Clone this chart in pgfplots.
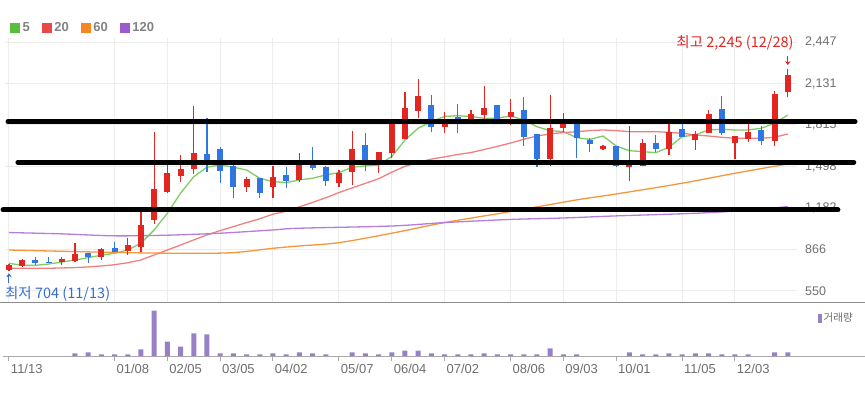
\documentclass[border=0pt]{standalone}
\usepackage{fontspec}
\setmainfont{Liberation Sans}
\newfontfamily\kr{Noto Sans CJK KR}
\usepackage{pgfplots}
\usepackage{pgfplotstable}
\pgfplotsset{compat=1.18}
\usetikzlibrary{arrows.meta}

\definecolor{cRed}{RGB}{226,38,33}
\definecolor{cBlue}{RGB}{48,118,226}
\definecolor{maGreen}{RGB}{125,205,100}
\definecolor{maRed}{RGB}{240,128,128}
\definecolor{maOrange}{RGB}{246,150,60}
\definecolor{maPurple}{RGB}{180,125,222}
\definecolor{lgGreen}{RGB}{90,190,60}
\definecolor{lgRed}{RGB}{235,72,72}
\definecolor{lgOrange}{RGB}{245,135,30}
\definecolor{lgPurple}{RGB}{155,90,205}
\definecolor{volC}{RGB}{152,128,200}
\definecolor{tickgray}{RGB}{110,110,110}
\definecolor{legendgray}{RGB}{130,130,130}
\definecolor{gridgray}{RGB}{236,236,236}
\definecolor{lowBlue}{RGB}{55,110,205}

% weekly candles: x = week index from 11/13
\pgfplotstableread{
x o h l c
0 712 752 704 748
1 741 794 736 786
4 773 811 748 794
5 781 918 773 832
7 807 876 786 868
9 857 952 824 898
10 883 1188 850 1053
11 1091 1764 1061 1327
12 1307 1510 1295 1452
13 1425 1587 1383 1480
14 1480 1960 1442 1604
18 1340 1421 1307 1401
20 1340 1503 1256 1421
22 1396 1605 1384 1541
25 1371 1470 1340 1452
26 1455 1769 1358 1630
28 1528 1612 1452 1612
29 1604 1823 1561 1823
30 1706 2064 1706 1947
31 1922 2166 1866 2036
33 1798 1917 1757 1828
35 1861 1930 1828 1899
36 1891 2113 1859 1947
38 1879 2013 1815 1917
41 1554 2044 1503 1795
42 1790 1909 1765 1823
45 1630 1660 1625 1655
47 1495 1808 1391 1525
48 1503 1706 1503 1681
50 1630 1828 1587 1764
52 1701 1770 1625 1747
53 1757 1930 1757 1899
55 1676 1732 1554 1732
56 1706 1859 1688 1764
58 1693 2077 1655 2051
59 2064 2245 2026 2196
}\upc

\pgfplotstableread{
x o h l c
2 786 811 748 766
3 773 811 766 766
6 837 837 766 807
8 880 926 850 850
15 1594 1866 1455 1548
16 1632 1650 1371 1467
17 1503 1510 1256 1340
19 1414 1414 1256 1299
21 1434 1497 1333 1391
23 1515 1645 1472 1490
24 1497 1503 1350 1391
27 1663 1757 1462 1548
32 1968 2044 1764 1798
34 1879 1975 1757 1853
37 1968 1968 1859 1859
39 1930 2026 1655 1721
40 1747 1747 1498 1554
43 1820 1848 1561 1714
44 1701 1714 1612 1668
46 1655 1655 1495 1503
49 1681 1739 1612 1630
51 1782 1828 1721 1721
54 1935 2036 1739 1757
57 1777 1808 1663 1693
}\downc

\pgfplotstableread{
x ma5 ma20
0 761 723
1 745 722
2 745 722
3 755 723
4 770 725
5 786 728
6 804 733
7 822 740
8 837 750
9 862 765
10 914 786
11 1015 824
12 1142 862
13 1295 900
14 1421 939
15 1493 977
16 1510 1010
17 1493 1040
18 1472 1071
19 1409 1100
20 1383 1135
21 1376 1158
22 1396 1190
23 1409 1225
24 1434 1260
25 1452 1300
26 1493 1335
27 1503 1370
28 1510 1405
29 1575 1455
30 1700 1500
31 1790 1530
32 1841 1555
33 1880 1572
34 1886 1590
35 1879 1605
36 1866 1628
37 1866 1652
38 1884 1677
39 1853 1706
40 1802 1731
41 1772 1747
42 1764 1757
43 1719 1764
44 1705 1772
45 1731 1777
46 1655 1772
47 1619 1764
48 1612 1764
49 1604 1764
50 1645 1759
51 1726 1752
52 1739 1739
53 1777 1731
54 1782 1721
55 1777 1714
56 1777 1714
57 1790 1714
58 1828 1721
59 1891 1747
}\mashort

\pgfplotstableread{
x v
0 862
5 850
10 840
14 837
17 842
20 875
22 893
25 918
29 990
33 1071
38 1155
43 1244
46 1289
51 1371
55 1447
59 1518
}\masixty

\pgfplotstableread{
x v
0 995
4 985
8 970
12 975
16 990
20 1015
22 1028
29 1045
33 1071
38 1095
42 1106
46 1122
52 1142
56 1165
59 1193
}\maonetwenty

\pgfplotstableread{
x v
5 2.7
6 3.7
7 1.7
8 1.7
9 1.7
10 6.7
11 45.3
12 14.3
13 9.3
14 22.7
15 21.7
16 2.7
17 2.7
18 1.7
19 1.7
20 2.7
21 1.7
22 3.7
23 2.7
24 1.7
26 3.7
27 2.7
28 1.7
29 3.7
30 5.3
31 5.3
32 2.7
33 1.7
34 1.7
35 1.7
36 2.7
37 1.7
38 1.7
39 1.7
40 1.7
41 7.7
42 1.7
43 1.7
47 3.7
48 1.7
49 1.7
50 2.7
51 1.7
52 2.7
53 2.7
54 1.7
55 1.7
56 1.7
58 3.7
59 3.7
}\vol

\pgfplotsset{
  candle/.style n args={2}{forget plot, only marks, mark=*, mark size=0pt,
    mark options={draw=none, fill=none},
    error bars/.cd, y dir=plus, y explicit, error mark=none,
    error bar style={draw=#1, line width=#2, line cap=butt}},
}

\begin{document}
\begin{tikzpicture}
\path[use as bounding box] (0pt,0pt) rectangle (865pt,-394pt);

\begin{axis}[
  at={(5pt,-303pt)}, anchor=south west,
  scale only axis, width=792pt, height=265pt,
  xmin=-0.3, xmax=59.7, ymin=458, ymax=2478,
  clip=false,
  axis line style={draw=none},
  xtick={0,8,12,16,20,25,29,33,38,42,46,51,55},
  xticklabels={},
  ytick={550,866,1182,1498,1815,2131,2447},
  yticklabels={550,866,{1,182},{1,498},{1,815},{2,131},{2,447}},
  yticklabel pos=right,
  yticklabel style={anchor=west, inner xsep=0pt, xshift=8pt},
  major tick length=0pt,
  grid=major,
  major grid style={draw=gridgray, line width=1pt},
  tick label style={font=\fontsize{12.5}{14}\selectfont, text=tickgray},
  legend columns=4,
  legend style={at={(0.0063,1.0385)}, anchor=west, draw=none, fill=none,
    inner sep=0pt, font=\bfseries\fontsize{13}{13}\selectfont, text=legendgray,
    nodes={inner xsep=2.5pt, inner ysep=0pt},
    /tikz/every even column/.append style={column sep=9.5pt}},
]
% moving averages
\addplot[maGreen, line width=1.3pt, legend image code/.code={\fill[lgGreen] (0pt,-4.35pt) rectangle (8.7pt,4.35pt);}] table[x=x,y=ma5] {\mashort};
\addlegendentry{5}
\addplot[maRed, line width=1.3pt, legend image code/.code={\fill[lgRed] (0pt,-4.35pt) rectangle (8.7pt,4.35pt);}] table[x=x,y=ma20] {\mashort};
\addlegendentry{20}
\addplot[maOrange, line width=1.3pt, smooth, legend image code/.code={\fill[lgOrange] (0pt,-4.35pt) rectangle (8.7pt,4.35pt);}] table[x=x,y=v] {\masixty};
\addlegendentry{60}
\addplot[maPurple, line width=1.3pt, smooth, legend image code/.code={\fill[lgPurple] (0pt,-4.35pt) rectangle (8.7pt,4.35pt);}] table[x=x,y=v] {\maonetwenty};
\addlegendentry{120}

% candles: wicks (low -> high) and bodies (min(open,close) -> max)
\addplot[candle={cRed}{1.3pt}] table[x=x, y=l, y error expr=\thisrow{h}-\thisrow{l}] {\upc};
\addplot[candle={cRed}{6pt}] table[x=x, y=o, y error expr=\thisrow{c}-\thisrow{o}] {\upc};
\addplot[candle={cBlue}{1.3pt}] table[x=x, y=l, y error expr=\thisrow{h}-\thisrow{l}] {\downc};
\addplot[candle={cBlue}{6pt}] table[x=x, y=c, y error expr=\thisrow{o}-\thisrow{c}] {\downc};

% annotations
\node[anchor=south east, inner sep=0pt, text=cRed, font=\kr\fontsize{14.5}{14.5}\selectfont]
  at (axis cs:59,2245) [xshift=6pt, yshift=18pt] {최고 2,245 (12/28)};
\draw[cRed, line width=1pt, -{Stealth[length=4pt,width=5.5pt]}] (axis cs:59,2245) ++(0pt,12.5pt) -- ++(0pt,-9pt);
\node[anchor=north west, inner sep=0pt, text=lowBlue, font=\kr\fontsize{14.5}{14.5}\selectfont]
  at (axis cs:0,704) [xshift=-4pt, yshift=-15.5pt] {최저 704 (11/13)};
\draw[lowBlue, line width=1pt, -{Stealth[length=4pt,width=5.5pt]}] (axis cs:0,704) ++(0pt,-12.5pt) -- ++(0pt,10pt);
\end{axis}

% overlay axis for the hand-drawn thick black lines (drawn above tick labels)
\begin{axis}[
  at={(5pt,-303pt)}, anchor=south west,
  scale only axis, width=792pt, height=265pt,
  xmin=-0.3, xmax=59.7, ymin=458, ymax=2478,
  clip=false, axis lines=none, ticks=none,
]
\addplot[black, line width=5pt, line cap=round] coordinates {(-0.07,1840) (64.1,1840)};
\addplot[black, line width=5pt, line cap=round] coordinates {(0.68,1531) (64.0,1531)};
\addplot[black, line width=5pt, line cap=round] coordinates {(-0.45,1167) (62.8,1167)};
\end{axis}

\draw[color={rgb,255:red,140;green,140;blue,140}, line width=1.3pt] (0pt,-302.5pt) -- (865pt,-302.5pt);
\draw[color={rgb,255:red,170;green,170;blue,170}, line width=1pt] (3pt,-356pt) -- (865pt,-356pt);

\begin{axis}[
  at={(5pt,-356pt)}, anchor=south west,
  scale only axis, width=792pt, height=53pt,
  xmin=-0.3, xmax=59.7, ymin=0, ymax=53,
  axis line style={draw=none},
  clip=false,
  ytick=\empty,
  xtick={0,8,12,16,20,25,29,33,38,42,46,51,55},
  xticklabels={11/13,01/08,02/05,03/05,04/02,05/07,06/04,07/02,08/06,09/03,10/01,11/05,12/03},
  xtick pos=left,
  tick align=outside, major tick length=5pt,
  xtick style={draw={rgb,255:red,170;green,170;blue,170}, line width=1pt},
  xticklabel style={anchor=north west, xshift=-1.5pt, font=\fontsize{13}{14}\selectfont, text=tickgray},
  legend style={at={(1.0265,0.717)}, anchor=west, draw=none, fill=none, inner sep=0pt,
    font=\kr\fontsize{10.5}{11}\selectfont, text=tickgray, nodes={inner xsep=2pt, inner ysep=0pt}},
]
\addplot[ybar, bar width=5pt, bar shift=0pt, fill=volC, draw=none,
  legend image code/.code={\fill[volC] (0pt,-4.5pt) rectangle (3.5pt,4.5pt);}] table[x=x,y=v] {\vol};
\addlegendentry{거래량}
\end{axis}
\end{tikzpicture}
\end{document}
